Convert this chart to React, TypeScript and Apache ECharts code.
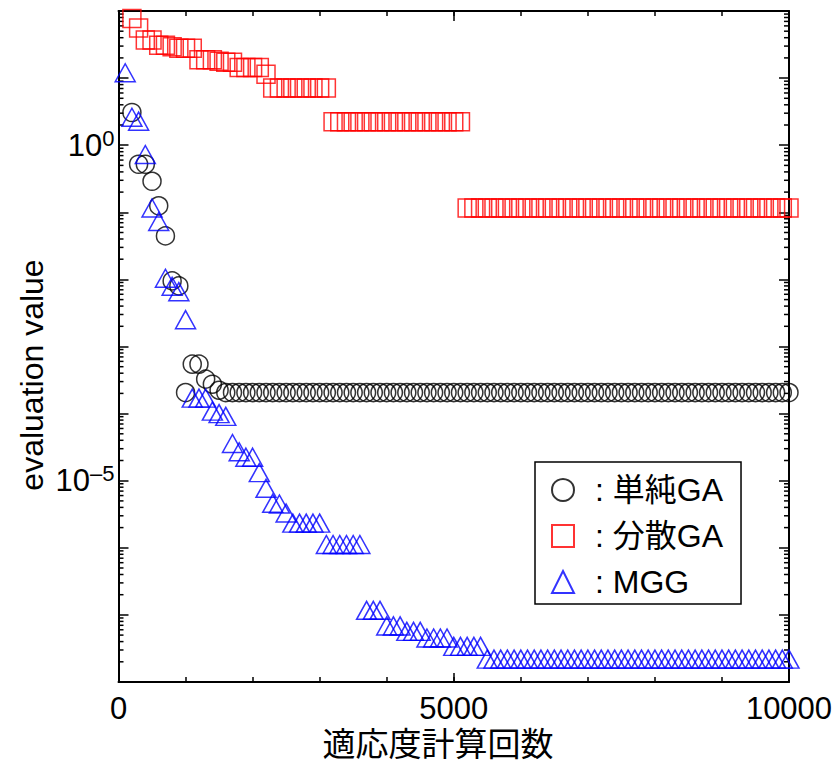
import React, { useEffect, useRef } from 'react';
import * as echarts from 'echarts';

const FONT = "'Liberation Sans', 'Noto Sans CJK JP', sans-serif";

// Evaluation counts at which the best value of each run was recorded
const evaluationCounts: number[] = Array.from({ length: 100 }, (_, i) => (i + 1) * 100);

// 単純GA (simple GA) – null where no record exists
const simpleGA: (number | null)[] = [
  null, 3.07, 0.52, 0.52, 0.29, 0.125, 0.0445, 0.0095, 0.008, 2.06e-4,
  5.45e-4, 5.45e-4, 3.26e-4, 2.74e-4, 2.23e-4, 2.06e-4, 2.06e-4, 2.06e-4, 2.06e-4, 2.06e-4,
  2.06e-4, 2.06e-4, 2.06e-4, 2.06e-4, 2.06e-4, 2.06e-4, 2.06e-4, 2.06e-4, 2.06e-4, 2.06e-4,
  2.06e-4, 2.06e-4, 2.06e-4, 2.06e-4, 2.06e-4, 2.06e-4, 2.06e-4, 2.06e-4, 2.06e-4, 2.06e-4,
  2.06e-4, 2.06e-4, 2.06e-4, 2.06e-4, 2.06e-4, 2.06e-4, 2.06e-4, 2.06e-4, 2.06e-4, 2.06e-4,
  2.06e-4, 2.06e-4, 2.06e-4, 2.06e-4, 2.06e-4, 2.06e-4, 2.06e-4, 2.06e-4, 2.06e-4, 2.06e-4,
  2.06e-4, 2.06e-4, 2.06e-4, 2.06e-4, 2.06e-4, 2.06e-4, 2.06e-4, 2.06e-4, 2.06e-4, 2.06e-4,
  2.06e-4, 2.06e-4, 2.06e-4, 2.06e-4, 2.06e-4, 2.06e-4, 2.06e-4, 2.06e-4, 2.06e-4, 2.06e-4,
  2.06e-4, 2.06e-4, 2.06e-4, 2.06e-4, 2.06e-4, 2.06e-4, 2.06e-4, 2.06e-4, 2.06e-4, 2.06e-4,
  2.06e-4, 2.06e-4, 2.06e-4, 2.06e-4, 2.06e-4, 2.06e-4, 2.06e-4, 2.06e-4, 2.06e-4, 2.06e-4,
];

// 分散GA (distributed GA)
const distributedGA: (number | null)[] = [
  null, 77, 56, 37, 37, 31, 31, 29.4, 27.9, 27.9,
  27.9, 18.8, 18.8, 18.8, 17.9, 17.3, 17.3, 14.4, 14.4, 14.4,
  14.4, 11.4, 7.14, 7.14, 7.14, 7.14, 7.14, 7.14, 7.14, 7.14,
  7.14, 2.24, 2.24, 2.24, 2.24, 2.24, 2.24, 2.24, 2.24, 2.24,
  2.24, 2.24, 2.24, 2.24, 2.24, 2.24, 2.24, 2.24, 2.24, 2.24,
  2.24, 0.116, 0.116, 0.116, 0.116, 0.116, 0.116, 0.116, 0.116, 0.116,
  0.116, 0.116, 0.116, 0.116, 0.116, 0.116, 0.116, 0.116, 0.116, 0.116,
  0.116, 0.116, 0.116, 0.116, 0.116, 0.116, 0.116, 0.116, 0.116, 0.116,
  0.116, 0.116, 0.116, 0.116, 0.116, 0.116, 0.116, 0.116, 0.116, 0.116,
  0.116, 0.116, 0.116, 0.116, 0.116, 0.116, 0.116, 0.116, 0.116, 0.116,
];

// MGG (minimal generation gap)
const mgg: (number | null)[] = [
  12, 2.61, 2.28, 0.726, 0.116, 0.0729, 0.0104, 0.0079, 0.00656, 0.00251,
  1.7e-4, 1.7e-4, 1.7e-4, 1.09e-4, 1.0e-4, 9.1e-5, 3.58e-5, 2.7e-5, 2.24e-5, 2.24e-5,
  1.32e-5, 7.7e-6, 4.6e-6, 4.5e-6, 3.3e-6, 2.33e-6, 2.33e-6, 2.33e-6, 2.33e-6, 2.33e-6,
  1.12e-6, 1.12e-6, 1.12e-6, 1.12e-6, 1.12e-6, 1.12e-6, 1.17e-7, 1.17e-7, 1.17e-7, 6.85e-8,
  6.85e-8, 6.85e-8, 5.68e-8, 5.68e-8, 5.68e-8, 4.53e-8, 4.53e-8, 4.53e-8, 4.53e-8, 3.4e-8,
  3.4e-8, 3.4e-8, 3.4e-8, 3.4e-8, 2.19e-8, 2.19e-8, 2.19e-8, 2.19e-8, 2.19e-8, 2.19e-8,
  2.19e-8, 2.19e-8, 2.19e-8, 2.19e-8, 2.19e-8, 2.19e-8, 2.19e-8, 2.19e-8, 2.19e-8, 2.19e-8,
  2.19e-8, 2.19e-8, 2.19e-8, 2.19e-8, 2.19e-8, 2.19e-8, 2.19e-8, 2.19e-8, 2.19e-8, 2.19e-8,
  2.19e-8, 2.19e-8, 2.19e-8, 2.19e-8, 2.19e-8, 2.19e-8, 2.19e-8, 2.19e-8, 2.19e-8, 2.19e-8,
  2.19e-8, 2.19e-8, 2.19e-8, 2.19e-8, 2.19e-8, 2.19e-8, 2.19e-8, 2.19e-8, 2.19e-8, 2.19e-8,
];

const seriesNames = ['単純GA', '分散GA', 'MGG'];
const labelledExponents = [0, -5];
const yMin = 1e-8;
const yMax = 1e2;
const xMax = 10000;

const toPoints = (values: (number | null)[]) =>
  values
    .map((v, i) => (v == null ? null : [evaluationCounts[i], v]))
    .filter((p) => p !== null) as number[][];

// minor tick positions (2..9 × 10^e) for each decade on the log axis
const minorTickValues: number[] = [];
for (let e = -8; e < 2; e++) {
  for (let m = 2; m <= 9; m++) minorTickValues.push(m * Math.pow(10, e));
}

const BLACK = '#000';
const lineStyle = { color: BLACK, width: 2 };
const tickStyle = { color: BLACK, width: 1.5 };

const xAxisBase = {
  type: 'value',
  min: 0,
  max: xMax,
  splitLine: { show: false },
  axisLine: { show: false, onZero: false },
};

export default function App() {
  const ref = useRef<HTMLDivElement>(null);

  useEffect(() => {
    document.body.style.margin = '0';
    if (!ref.current) return;
    const chart = echarts.init(ref.current, undefined, { renderer: 'svg' });

    const yLabelFormatter = (v: number) => {
      const e = Math.round(Math.log10(v));
      if (!labelledExponents.includes(e)) return '';
      const exp = e < 0 ? '–' + String(-e) : String(e);
      return `{b|10}{s|${exp}}`;
    };

    const hollow = (color: string) => ({
      color: 'rgba(255,255,255,0)',
      borderColor: color,
      borderWidth: 1.5,
    });

    const option: any = {
      animation: false,
      textStyle: { fontFamily: FONT },
      grid: { left: 118.5, right: 48, top: 11, bottom: 81, outerBoundsMode: 'none' },
      xAxis: [
        {
          ...xAxisBase,
          position: 'bottom',
          interval: 5000,
          axisLine: { show: true, onZero: false, lineStyle },
          axisTick: { show: true, inside: true, length: 9, lineStyle: tickStyle },
          axisLabel: {
            show: true,
            margin: 11,
            fontSize: 31,
            color: BLACK,
            fontFamily: FONT,
            showMinLabel: true,
            showMaxLabel: true,
            formatter: (v: number) => String(v),
          },
        },
        {
          ...xAxisBase,
          position: 'bottom',
          interval: 1000,
          axisTick: { show: true, inside: true, length: 5, lineStyle: tickStyle },
          axisLabel: { show: false },
        },
        {
          ...xAxisBase,
          position: 'top',
          interval: 5000,
          axisLine: { show: true, onZero: false, lineStyle },
          axisTick: { show: true, inside: true, length: 10, lineStyle: tickStyle },
          axisLabel: { show: false },
        },
        {
          ...xAxisBase,
          position: 'top',
          interval: 1000,
          axisTick: { show: true, inside: true, length: 5, lineStyle: tickStyle },
          axisLabel: { show: false },
        },
      ],
      yAxis: [
        {
          type: 'log',
          logBase: 10,
          min: yMin,
          max: yMax,
          interval: 1,
          position: 'left',
          splitLine: { show: false },
          axisLine: { show: true, onZero: false, lineStyle },
          axisTick: { show: true, inside: true, length: 10, lineStyle: tickStyle },
          axisLabel: {
            show: true,
            margin: 4,
            color: BLACK,
            formatter: yLabelFormatter,
            rich: {
              b: { fontSize: 31, lineHeight: 36, fontFamily: FONT, color: BLACK },
              s: { fontSize: 22, lineHeight: 27, verticalAlign: 'top', fontFamily: FONT, color: BLACK },
            },
          },
        },
        {
          type: 'log',
          logBase: 10,
          min: yMin,
          max: yMax,
          interval: 1,
          position: 'right',
          splitLine: { show: false },
          axisLine: { show: true, onZero: false, lineStyle },
          axisTick: { show: true, inside: true, length: 10, lineStyle: tickStyle },
          axisLabel: { show: false },
        },
      ],
      legend: {
        data: seriesNames,
        orient: 'vertical',
        left: 535,
        top: 462,
        padding: [11, 18, 5, 16],
        itemGap: 12,
        itemWidth: 22,
        itemHeight: 22,
        borderColor: BLACK,
        borderWidth: 1.5,
        backgroundColor: '#fff',
        selectedMode: false,
        formatter: (name: string) => ': ' + name,
        textStyle: {
          fontSize: 32,
          lineHeight: 34,
          color: BLACK,
          fontFamily: FONT,
          padding: [0, 0, 0, 16],
        },
      },
      graphic: [
        {
          type: 'text',
          x: 438,
          y: 744,
          style: {
            text: '適応度計算回数',
            fontSize: 33,
            fontFamily: FONT,
            fill: BLACK,
            align: 'center',
            verticalAlign: 'middle',
          },
        },
        {
          type: 'text',
          x: 32,
          y: 375,
          rotation: Math.PI / 2,
          style: {
            text: 'evaluation value',
            fontSize: 32,
            fontFamily: FONT,
            fill: BLACK,
            align: 'center',
            verticalAlign: 'middle',
          },
        },
      ],
      series: [
        {
          type: 'scatter',
          name: seriesNames[0],
          symbol: 'circle',
          symbolSize: 18,
          itemStyle: hollow('#000000'),
          data: toPoints(simpleGA),
        },
        {
          type: 'scatter',
          name: seriesNames[1],
          symbol: 'rect',
          symbolSize: 18,
          itemStyle: hollow('#ff0000'),
          data: toPoints(distributedGA),
        },
        {
          type: 'scatter',
          name: seriesNames[2],
          symbol: 'triangle',
          symbolSize: [20, 18],
          itemStyle: hollow('#0000ff'),
          data: toPoints(mgg),
        },
        {
          type: 'custom',
          name: 'minorTicks',
          silent: true,
          clip: false,
          data: minorTickValues.map((v) => [0, v]),
          renderItem: (params: any, api: any) => {
            const y = api.coord([0, api.value(1)])[1];
            const cs = params.coordSys;
            const style = { stroke: BLACK, lineWidth: 1.5 };
            return {
              type: 'group',
              children: [
                { type: 'line', shape: { x1: cs.x, y1: y, x2: cs.x + 5, y2: y }, style },
                {
                  type: 'line',
                  shape: { x1: cs.x + cs.width, y1: y, x2: cs.x + cs.width - 5, y2: y },
                  style,
                },
              ],
            };
          },
        },
      ],
    };

    chart.setOption(option);
    return () => chart.dispose();
  }, []);

  return <div ref={ref} style={{ width: 837, height: 763 }} />;
}
